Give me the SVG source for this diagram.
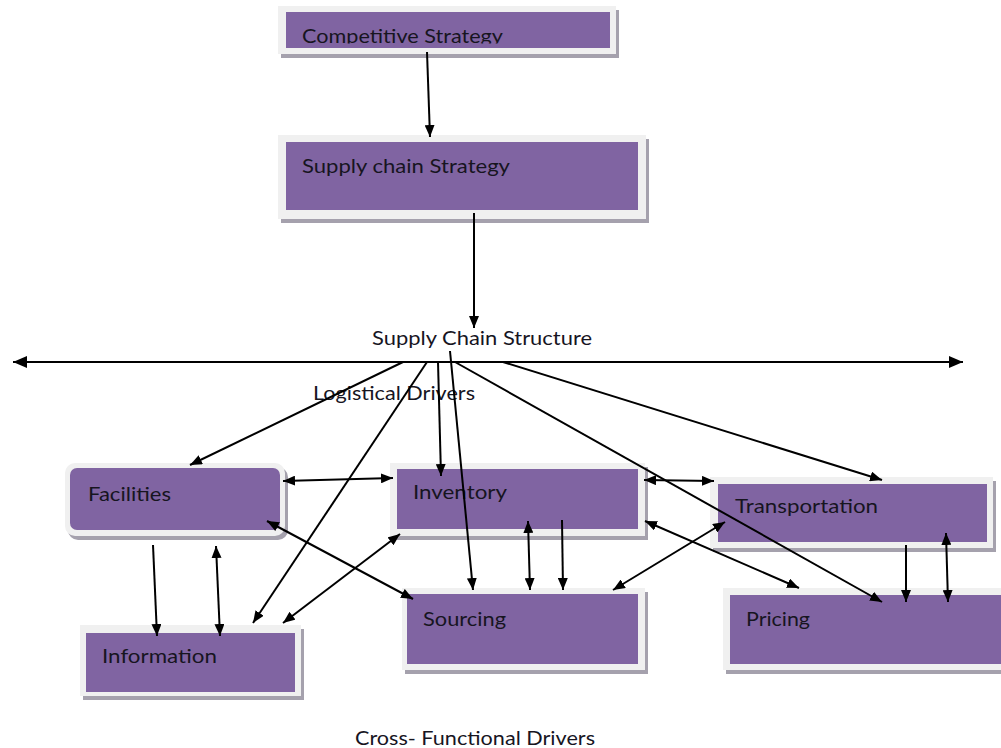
<svg xmlns="http://www.w3.org/2000/svg" width="1001" height="748" viewBox="0 0 1001 748">
<style>
.sh{fill:#a5a1ad}
.fr{fill:#f0f0f0}
.pu{fill:#8064a2}
.t{font-family:Lato,"Liberation Sans",sans-serif;font-size:20px;fill:#17151f}
.c line{stroke:#000;stroke-width:2;fill:none}
.e{marker-end:url(#ah)}
.d{marker-start:url(#ah);marker-end:url(#ah)}
</style>
<defs>
<marker id="ah" viewBox="0 0 12 10" refX="12" refY="5" markerWidth="12" markerHeight="10" markerUnits="userSpaceOnUse" orient="auto-start-reverse">
<path d="M0,0 L12,5 L0,10 z" fill="#000"/>
</marker>
<marker id="ahb" viewBox="0 0 14 12" refX="14" refY="6" markerWidth="14" markerHeight="12" markerUnits="userSpaceOnUse" orient="auto-start-reverse">
<path d="M0,0 L14,6 L0,12 z" fill="#000"/>
</marker>
<clipPath id="cc"><rect x="286" y="12" width="324" height="31.5"/></clipPath>
</defs>
<rect width="1001" height="748" fill="#fff"/>
<g id="competitive">
<rect class="sh" x="281" y="10" width="338" height="48"/>
<rect class="fr" x="278" y="6" width="338" height="48"/>
<rect class="pu" x="286" y="12" width="324" height="36"/>
<text class="t" x="302" y="43" textLength="201" lengthAdjust="spacingAndGlyphs" clip-path="url(#cc)">Competitive Strategy</text>
</g>
<g id="scstrategy">
<rect class="sh" x="281" y="139" width="368" height="84"/>
<rect class="fr" x="278" y="135" width="368" height="84"/>
<rect class="pu" x="286" y="142" width="352" height="68"/>
<text class="t" x="302" y="173" textLength="208" lengthAdjust="spacingAndGlyphs">Supply chain Strategy</text>
</g>
<g id="structure">
<text class="t" x="372" y="345" textLength="220" lengthAdjust="spacingAndGlyphs">Supply Chain Structure</text>
</g>
<g id="logistical">
<text class="t" x="313" y="400" textLength="162" lengthAdjust="spacingAndGlyphs">Logistical Drivers</text>
</g>
<g id="facilities">
<rect class="sh" x="68" y="467" width="220" height="73" rx="10"/>
<rect class="fr" x="65" y="463" width="220" height="73" rx="10"/>
<rect class="pu" x="70" y="468" width="210" height="62" rx="7"/>
<text class="t" x="88" y="501" textLength="83" lengthAdjust="spacingAndGlyphs">Facilities</text>
</g>
<g id="information">
<rect class="sh" x="83" y="629" width="221" height="71"/>
<rect class="fr" x="80" y="625" width="221" height="71"/>
<rect class="pu" x="86" y="633" width="209" height="59"/>
<text class="t" x="102" y="663" textLength="115" lengthAdjust="spacingAndGlyphs">Information</text>
</g>
<g id="inventory">
<rect class="sh" x="393" y="467" width="255" height="73"/>
<rect class="fr" x="390" y="463" width="255" height="73"/>
<rect class="pu" x="397" y="469" width="241" height="60"/>
<text class="t" x="413" y="499" textLength="94" lengthAdjust="spacingAndGlyphs">Inventory</text>
</g>
<g id="sourcing">
<rect class="sh" x="405" y="592" width="243" height="82"/>
<rect class="fr" x="402" y="588" width="243" height="82"/>
<rect class="pu" x="407" y="594" width="231" height="70"/>
<text class="t" x="423" y="626" textLength="83" lengthAdjust="spacingAndGlyphs">Sourcing</text>
</g>
<g id="transportation">
<rect class="sh" x="713" y="481" width="283" height="71"/>
<rect class="fr" x="710" y="477" width="283" height="71"/>
<rect class="pu" x="718" y="484" width="269" height="58"/>
<text class="t" x="735" y="513" textLength="143" lengthAdjust="spacingAndGlyphs">Transportation</text>
</g>
<g id="pricing">
<rect class="sh" x="726" y="592" width="290" height="82"/>
<rect class="fr" x="723" y="588" width="290" height="82"/>
<rect class="pu" x="730" y="595" width="280" height="69"/>
<text class="t" x="746" y="626" textLength="64" lengthAdjust="spacingAndGlyphs">Pricing</text>
</g>
<g id="crossfunctional">
<text class="t" x="355" y="745" textLength="240" lengthAdjust="spacingAndGlyphs">Cross- Functional Drivers</text>
</g>
<g id="connectors" class="c">
<line class="e" x1="427" y1="52" x2="430" y2="137"/>
<line class="e" x1="474" y1="213" x2="474" y2="328"/>
<line x1="13" y1="362" x2="963" y2="362" style="marker-start:url(#ahb);marker-end:url(#ahb)"/>
<line class="e" x1="403" y1="362" x2="190" y2="465"/>
<line class="e" x1="427" y1="362" x2="253" y2="623"/>
<line class="e" x1="438" y1="362" x2="441" y2="476"/>
<line class="e" x1="450" y1="351" x2="473" y2="590"/>
<line class="e" x1="455" y1="362" x2="882" y2="602"/>
<line class="e" x1="503" y1="362" x2="882" y2="480"/>
<line class="d" x1="283" y1="481" x2="393" y2="478"/>
<line class="d" x1="267" y1="521" x2="413" y2="599"/>
<line class="e" x1="153" y1="545" x2="157" y2="636"/>
<line class="d" x1="216" y1="546" x2="220" y2="636"/>
<line class="d" x1="400" y1="534" x2="283" y2="623"/>
<line class="d" x1="528" y1="521" x2="530" y2="590"/>
<line class="e" x1="562" y1="520" x2="563" y2="590"/>
<line class="d" x1="644" y1="480" x2="714" y2="481"/>
<line class="d" x1="645" y1="521" x2="799" y2="588"/>
<line class="d" x1="725" y1="522" x2="613" y2="590"/>
<line class="e" x1="906" y1="545" x2="906" y2="602"/>
<line class="d" x1="946" y1="533" x2="948" y2="602"/>
</g>
</svg>
